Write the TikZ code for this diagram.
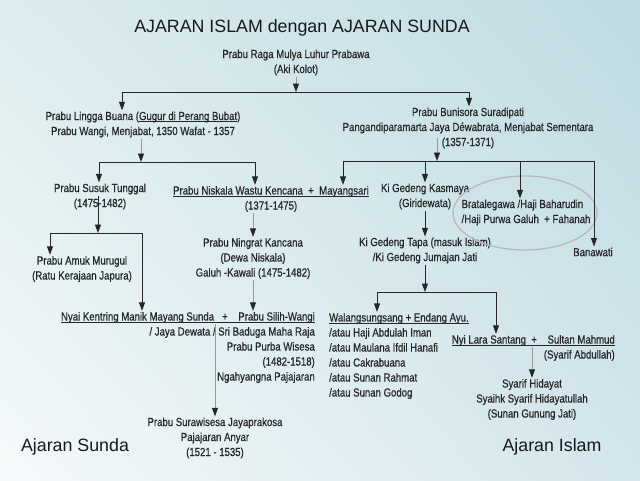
\documentclass[tikz,border=0pt]{standalone}
\usepackage{fontspec}
\setmainfont{Liberation Sans}
\newfontfamily\narrowfont{Liberation Sans}[FakeStretch=0.82,FakeBold=0.6]
\usetikzlibrary{arrows.meta,calc,shadings}
\newsavebox\ulbox
\newcommand\myul[1]{\sbox\ulbox{#1}\rlap{\rule[-1.8pt]{\wd\ulbox}{0.6pt}}\usebox\ulbox}
\definecolor{bgUL}{HTML}{DCECEE}
\definecolor{bgUR}{HTML}{BEDBE2}
\definecolor{bgLL}{HTML}{F5F9FA}
\definecolor{bgLR}{HTML}{D3E6EB}
\begin{document}
\begin{tikzpicture}[x=1pt,y=-1pt,
  txt/.style={font=\narrowfont\fontsize{11.7}{15}\selectfont, align=center, inner sep=1pt, text=black!85},
  big/.style={font=\fontsize{17.8}{20}\selectfont, inner sep=0pt, text=black!90},
  bus/.style={draw=black!85, line width=0.9pt, line cap=rect},
  arr/.style={draw=black!85, line width=0.9pt, -{Triangle[width=6pt,length=8.5pt]}},
  garr/.style={draw=black!40, line width=0.9pt, -{Triangle[width=6pt,length=8.5pt,color=black!85]}},
  ring/.style={draw=black!28, line width=1.3pt}]
\useasboundingbox (0,0) rectangle (640,480);
\shade[upper left=bgUL, upper right=bgUR, lower left=bgLL, lower right=bgLR] (0,0) rectangle (640,480);

% nodes
\node[big] (title) at (302,28) {AJARAN ISLAM dengan AJARAN SUNDA};
\node[txt] (aki) at (296,62.5) {Prabu Raga Mulya Luhur Prabawa\\(Aki Kolot)};
\node[txt] (lingga) at (143,124.5) {Prabu Lingga Buana (\myul{Gugur di Perang Bubat})\\Prabu Wangi, Menjabat, 1350 Wafat - 1357};
\node[txt] (bunisora) at (468,128) {Prabu Bunisora Suradipati\\Pangandiparamarta Jaya Déwabrata, Menjabat Sementara\\(1357-1371)};
\node[txt] (susuk) at (100,196.5) {Prabu Susuk Tunggal\\(1475-1482)};
\node[txt] (niskala) at (271,199) {\myul{Prabu Niskala Wastu Kencana~~+~~Mayangsari}\\(1371-1475)};
\node[txt] (kasmaya) at (425,196.5) {Ki Gedeng Kasmaya\\(Giridewata)};
\node[txt, align=left] (brata) at (526,212.5) {Bratalegawa /Haji Baharudin\\/Haji Purwa Galuh~~+ Fahanah};
\node[txt] (banawati) at (593,252) {Banawati};
\node[txt] (tapa) at (425,250.5) {Ki Gedeng Tapa (masuk Islam)\\/Ki Gedeng Jumajan Jati};
\node[txt] (amuk) at (82,269) {Prabu Amuk Murugul\\(Ratu Kerajaan Japura)};
\node[txt] (ningrat) at (253,258.5) {Prabu Ningrat Kancana\\(Dewa Niskala)\\Galuh -Kawali (1475-1482)};
\node[txt, align=right, anchor=east] (nyai) at (316,347.5) {\myul{Nyai Kentring Manik Mayang Sunda~~~+~~~~Prabu Silih-Wangi}\\/ Jaya Dewata / Sri Baduga Maha Raja\\Prabu Purba Wisesa\\(1482-1518)\\Ngahyangna Pajajaran};
\node[txt] (surawisesa) at (215,438) {Prabu Surawisesa Jayaprakosa\\Pajajaran Anyar\\(1521 - 1535)};
\node[txt, align=left, anchor=west] (walang) at (328,356) {\myul{Walangsungsang + Endang Ayu.}\\/atau Haji Abdulah Iman\\/atau Maulana Ifdil Hanafi\\/atau Cakrabuana\\/atau Sunan Rahmat\\/atau Sunan Godog};
\node[txt, align=right, anchor=east] (lara) at (616,348) {\myul{Nyi Lara Santang~~+~~~~Sultan Mahmud}\\(Syarif Abdullah)};
\node[txt] (syarif) at (532,399.5) {Syarif Hidayat\\Syaihk Syarif Hidayatullah\\(Sunan Gunung Jati)};
\node[big] (ajsunda) at (75,447) {Ajaran Sunda};
\node[big] (ajislam) at (552,447) {Ajaran Islam};

% ring around Bratalegawa
\draw[ring] (525,213) ellipse [x radius=72, y radius=37];

% bus coordinates
\coordinate (b1L) at (122,92);  \coordinate (b1R) at (469,92);
\coordinate (b2L) at (99,162);  \coordinate (b2R) at (255,162); \coordinate (b2M) at (141,162);
\coordinate (b3L) at (343,161); \coordinate (b3R) at (594,161); \coordinate (b3M) at (437,161);
\coordinate (b3a) at (425,161); \coordinate (b3b) at (520,161);
\coordinate (b4L) at (377,292); \coordinate (b4R) at (496,292); \coordinate (b4M) at (425,292);
\coordinate (b5L) at (50,233);  \coordinate (b5R) at (142,233); \coordinate (b5M) at (98,233);

% top level
\draw[bus] (b1L) -- (b1R);
\draw[garr] (aki) -- (aki |- b1L);
\draw[arr] (b1L) -- (b1L |- lingga.north);
\draw[arr] (b1R) -- (b1R |- bunisora.north);

% Lingga Buana branch
\draw[bus] (b2L) -- (b2R);
\draw[garr] (b2M |- lingga.south) -- (b2M);
\draw[arr] (b2L) -- (b2L |- susuk.north);
\draw[arr] (b2R) -- (b2R |- niskala.north);

% Bunisora branch
\draw[bus] (b3L) -- (b3R);
\draw[garr] ($(b3M |- bunisora.south)+(0,-12)$) -- (b3M);
\draw[arr] (b3L) -- (b3L |- niskala.north);
\draw[arr] (b3a) -- (b3a |- kasmaya.north);
\draw[arr] (b3b) -- (b3b |- brata.north);
\draw[arr] (b3R) -- (b3R |- banawati.north);

% Kasmaya -> Tapa -> children
\draw[arr] (kasmaya) -- (tapa);
\draw[bus] (b4L) -- (b4R);
\draw[arr] (tapa) -- (b4M);
\draw[arr] (b4L) -- (b4L |- walang.north);
\draw[arr] (b4R) -- (b4R |- lara.north);

% Susuk Tunggal branch
\draw[bus] (b5L) -- (b5R);
\draw[arr] ($(b5M |- susuk.south)+(0,-15)$) -- (b5M);
\draw[arr] (b5L) -- (b5L |- amuk.north);
\draw[arr] (b5R) -- (b5R |- nyai.north);

% Niskala -> Ningrat -> Silih-Wangi
\draw[garr] (ningrat.north |- niskala.south) -- (ningrat.north);
\draw[garr] (ningrat) -- (ningrat.south |- nyai.north);
\draw[garr] ($(surawisesa.north |- nyai.north)+(0,13)$) -- (surawisesa.north);

% Lara Santang -> Syarif Hidayat
\draw[garr] ($(syarif.north |- lara.north)+(0,13)$) -- (syarif.north);
\end{tikzpicture}
\end{document}
